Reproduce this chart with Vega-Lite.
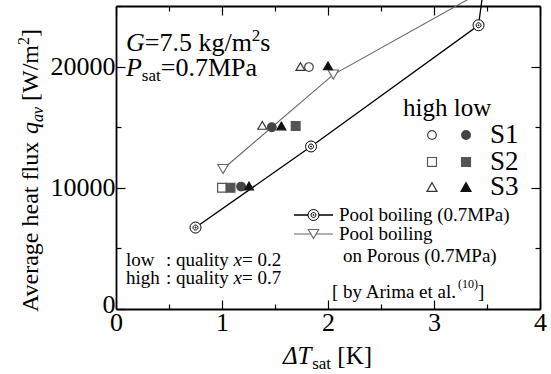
{
  "$schema": "https://vega.github.io/schema/vega-lite/v6.json",
  "width": 424,
  "height": 303,
  "autosize": {"type": "none"},
  "padding": {"left": 116, "top": 6, "right": 11, "bottom": 65},
  "background": "white",
  "config": {
    "view": {"stroke": null},
    "font": "Liberation Serif",
    "point": {"opacity": 1},
    "text": {"font": "Liberation Serif", "color": "black"}
  },
  "datasets": {
    "poolLine": [{"x": 0.75, "y": 6720}, {"x": 1.84, "y": 13410}, {"x": 3.42, "y": 23410}, {"x": 3.455, "y": 25700}],
    "pool": [{"x": 0.75, "y": 6720}, {"x": 1.84, "y": 13410}, {"x": 3.42, "y": 23410}],
    "porousLine": [{"x": 1.01, "y": 11550}, {"x": 2.05, "y": 19340}, {"x": 3.4, "y": 25930}],
    "porous": [{"x": 1.01, "y": 11550}, {"x": 2.05, "y": 19340}],
    "samples": [
      {"x": 1.82, "y": 19960, "s": "S1", "g": "S1 high"},
      {"x": 1.18, "y": 10100, "s": "S1", "g": "S1 low"},
      {"x": 1.47, "y": 15000, "s": "S1", "g": "S1 low"},
      {"x": 1.0, "y": 10000, "s": "S2", "g": "S2 high"},
      {"x": 1.08, "y": 10000, "s": "S2", "g": "S2 low"},
      {"x": 1.695, "y": 15100, "s": "S2", "g": "S2 low"},
      {"x": 1.38, "y": 15150, "s": "S3", "g": "S3 high"},
      {"x": 1.74, "y": 20000, "s": "S3", "g": "S3 high"},
      {"x": 1.255, "y": 10150, "s": "S3", "g": "S3 low"},
      {"x": 1.56, "y": 15100, "s": "S3", "g": "S3 low"},
      {"x": 2.0, "y": 20060, "s": "S3", "g": "S3 low"}
    ]
  },
  "resolve": {"axis": {"x": "independent", "y": "independent"}},
  "layer": [
    {
      "data": {"name": "poolLine"},
      "mark": {"type": "line", "color": "black", "strokeWidth": 1.3},
      "encoding": {
        "x": {"field": "x", "type": "quantitative", "scale": {"domain": [0, 4], "nice": false, "zero": false},
          "axis": {"orient": "bottom", "values": [0, 0.5, 1, 1.5, 2, 2.5, 3, 3.5, 4], "labelExpr": "datum.value % 1 === 0 ? format(datum.value, 'd') : ''",
            "labelFont": "Liberation Serif", "labelFontSize": 26, "labelColor": "black", "labelPadding": 9, "labelOverlap": false, "labelFlush": false, "labelBound": false,
            "tickSize": {"condition": {"test": "datum.value % 1 === 0", "value": -9}, "value": -5}, "tickColor": "black", "tickWidth": 1.2,
            "domainColor": "black", "domainWidth": 1.8, "grid": false, "title": null}},
        "y": {"field": "y", "type": "quantitative", "scale": {"domain": [0, 25000], "nice": false, "zero": false},
          "axis": {"orient": "left", "values": [0, 5000, 10000, 15000, 20000, 25000], "labelExpr": "datum.value % 10000 === 0 ? format(datum.value, 'd') : ''",
            "labelFont": "Liberation Serif", "labelFontSize": 26, "labelColor": "black", "labelPadding": 10, "labelOverlap": false, "labelFlush": false, "labelBound": false,
            "labelOffset": {"condition": {"test": "datum.value === 0", "value": -5}, "value": 0},
            "tickSize": {"condition": {"test": "datum.value % 10000 === 0", "value": -9}, "value": -5}, "tickColor": "black", "tickWidth": 1.2,
            "domainColor": "black", "domainWidth": 1.8, "grid": false, "title": null}}
      }
    },
    {
      "data": {"name": "porousLine"},
      "mark": {"type": "line", "color": "#666666", "strokeWidth": 1.1},
      "encoding": {
        "x": {"field": "x", "type": "quantitative", "scale": {"domain": [0, 4], "nice": false, "zero": false},
          "axis": {"orient": "top", "values": [0, 0.5, 1, 1.5, 2, 2.5, 3, 3.5, 4], "labels": false,
            "tickSize": {"condition": {"test": "datum.value % 1 === 0", "value": -9}, "value": -5}, "tickColor": "black", "tickWidth": 1.2,
            "domainColor": "black", "domainWidth": 1.8, "grid": false, "title": null}},
        "y": {"field": "y", "type": "quantitative", "scale": {"domain": [0, 25000], "nice": false, "zero": false},
          "axis": {"orient": "right", "values": [0, 5000, 10000, 15000, 20000, 25000], "labels": false,
            "tickSize": {"condition": {"test": "datum.value % 10000 === 0", "value": -9}, "value": -5}, "tickColor": "black", "tickWidth": 1.2,
            "domainColor": "black", "domainWidth": 1.8, "grid": false, "title": null}}
      }
    },
    {
      "data": {"name": "porous"},
      "mark": {"type": "point", "shape": "triangle-down", "size": 110, "filled": true, "fill": "white", "stroke": "#666666", "strokeWidth": 1.1},
      "encoding": {
        "x": {"field": "x", "type": "quantitative", "axis": null},
        "y": {"field": "y", "type": "quantitative", "axis": null}
      }
    },
    {
      "data": {"name": "pool"},
      "mark": {"type": "point", "shape": "M-1,0A1,1,0,1,0,1,0A1,1,0,1,0,-1,0Z M-0.45,0A0.45,0.45,0,1,0,0.45,0A0.45,0.45,0,1,0,-0.45,0Z M-0.1,0A0.1,0.1,0,1,0,0.1,0A0.1,0.1,0,1,0,-0.1,0Z", "size": 121, "filled": true, "fill": "white", "stroke": "black", "strokeWidth": 1},
      "encoding": {
        "x": {"field": "x", "type": "quantitative", "axis": null},
        "y": {"field": "y", "type": "quantitative", "axis": null}
      }
    },
    {
      "data": {"name": "samples"},
      "mark": {"type": "point", "filled": true, "strokeWidth": 1.2},
      "encoding": {
        "x": {"field": "x", "type": "quantitative", "axis": null},
        "y": {"field": "y", "type": "quantitative", "axis": null},
        "shape": {"field": "s", "type": "nominal", "scale": {"domain": ["S1", "S2", "S3"], "range": ["circle", "square", "triangle-up"]}, "legend": null},
        "size": {"field": "s", "type": "nominal", "scale": {"domain": ["S1", "S2", "S3"], "range": [75, 80, 100]}, "legend": null},
        "fill": {"field": "g", "type": "nominal", "scale": {"domain": ["S1 high", "S1 low", "S2 high", "S2 low", "S3 high", "S3 low"], "range": ["transparent", "#444444", "transparent", "#555555", "transparent", "#111111"]}, "legend": null},
        "stroke": {"field": "g", "type": "nominal", "scale": {"domain": ["S1 high", "S1 low", "S2 high", "S2 low", "S3 high", "S3 low"], "range": ["#444444", "#444444", "#555555", "#555555", "#333333", "#111111"]}, "legend": null}
      }
    },
    {"data": {"values": [{}]}, "mark": {"type": "point", "shape": "circle", "size": 75, "filled": true, "fill": "transparent", "stroke": "#444444", "strokeWidth": 1.2},
      "encoding": {"x": {"datum": 2.981, "type": "quantitative", "axis": null}, "y": {"datum": 14356, "type": "quantitative", "axis": null}}},
    {"data": {"values": [{}]}, "mark": {"type": "point", "shape": "circle", "size": 75, "filled": true, "fill": "#444444", "stroke": "#444444", "strokeWidth": 1.2},
      "encoding": {"x": {"datum": 3.302, "type": "quantitative", "axis": null}, "y": {"datum": 14356, "type": "quantitative", "axis": null}}},
    {"data": {"values": [{}]}, "mark": {"type": "point", "shape": "square", "size": 80, "filled": true, "fill": "transparent", "stroke": "#555555", "strokeWidth": 1.2},
      "encoding": {"x": {"datum": 2.981, "type": "quantitative", "axis": null}, "y": {"datum": 12129, "type": "quantitative", "axis": null}}},
    {"data": {"values": [{}]}, "mark": {"type": "point", "shape": "square", "size": 80, "filled": true, "fill": "#555555", "stroke": "#555555", "strokeWidth": 1.2},
      "encoding": {"x": {"datum": 3.302, "type": "quantitative", "axis": null}, "y": {"datum": 12129, "type": "quantitative", "axis": null}}},
    {"data": {"values": [{}]}, "mark": {"type": "point", "shape": "triangle-up", "size": 100, "filled": true, "fill": "transparent", "stroke": "#333333", "strokeWidth": 1.2},
      "encoding": {"x": {"datum": 2.981, "type": "quantitative", "axis": null}, "y": {"datum": 10066, "type": "quantitative", "axis": null}}},
    {"data": {"values": [{}]}, "mark": {"type": "point", "shape": "triangle-up", "size": 100, "filled": true, "fill": "#111111", "stroke": "#111111", "strokeWidth": 1.2},
      "encoding": {"x": {"datum": 3.302, "type": "quantitative", "axis": null}, "y": {"datum": 10066, "type": "quantitative", "axis": null}}},
    {"data": {"values": [{}]}, "mark": {"type": "text", "text": "high low", "fontSize": 25, "align": "left", "baseline": "middle"},
      "encoding": {"x": {"datum": 2.708, "type": "quantitative", "axis": null}, "y": {"datum": 16584, "type": "quantitative", "axis": null}}},
    {"data": {"values": [{}]}, "mark": {"type": "text", "text": "S1", "fontSize": 27, "align": "left", "baseline": "middle"},
      "encoding": {"x": {"datum": 3.528, "type": "quantitative", "axis": null}, "y": {"datum": 14356, "type": "quantitative", "axis": null}}},
    {"data": {"values": [{}]}, "mark": {"type": "text", "text": "S2", "fontSize": 27, "align": "left", "baseline": "middle"},
      "encoding": {"x": {"datum": 3.528, "type": "quantitative", "axis": null}, "y": {"datum": 12129, "type": "quantitative", "axis": null}}},
    {"data": {"values": [{}]}, "mark": {"type": "text", "text": "S3", "fontSize": 27, "align": "left", "baseline": "middle"},
      "encoding": {"x": {"datum": 3.528, "type": "quantitative", "axis": null}, "y": {"datum": 10066, "type": "quantitative", "axis": null}}},
    {"data": {"values": [{}]}, "mark": {"type": "rule", "color": "black", "strokeWidth": 1.3},
      "encoding": {"x": {"datum": 1.679, "type": "quantitative", "axis": null}, "x2": {"datum": 2.047}, "y": {"datum": 7756, "type": "quantitative", "axis": null}}},
    {"data": {"values": [{}]}, "mark": {"type": "point", "shape": "M-1,0A1,1,0,1,0,1,0A1,1,0,1,0,-1,0Z M-0.45,0A0.45,0.45,0,1,0,0.45,0A0.45,0.45,0,1,0,-0.45,0Z M-0.1,0A0.1,0.1,0,1,0,0.1,0A0.1,0.1,0,1,0,-0.1,0Z", "size": 121, "filled": true, "fill": "white", "stroke": "black", "strokeWidth": 1},
      "encoding": {"x": {"datum": 1.863, "type": "quantitative", "axis": null}, "y": {"datum": 7756, "type": "quantitative", "axis": null}}},
    {"data": {"values": [{}]}, "mark": {"type": "rule", "color": "#666666", "strokeWidth": 1.1},
      "encoding": {"x": {"datum": 1.679, "type": "quantitative", "axis": null}, "x2": {"datum": 2.047}, "y": {"datum": 6188, "type": "quantitative", "axis": null}}},
    {"data": {"values": [{}]}, "mark": {"type": "point", "shape": "triangle-down", "size": 110, "filled": true, "fill": "white", "stroke": "#666666", "strokeWidth": 1.1},
      "encoding": {"x": {"datum": 1.863, "type": "quantitative", "axis": null}, "y": {"datum": 6188, "type": "quantitative", "axis": null}}},
    {"data": {"values": [{}]}, "mark": {"type": "text", "text": "Pool boiling (0.7MPa)", "fontSize": 19, "align": "left", "baseline": "middle"},
      "encoding": {"x": {"datum": 2.104, "type": "quantitative", "axis": null}, "y": {"datum": 7756, "type": "quantitative", "axis": null}}},
    {"data": {"values": [{}]}, "mark": {"type": "text", "text": "Pool boiling", "fontSize": 19, "align": "left", "baseline": "middle"},
      "encoding": {"x": {"datum": 2.104, "type": "quantitative", "axis": null}, "y": {"datum": 6188, "type": "quantitative", "axis": null}}},
    {"data": {"values": [{}]}, "mark": {"type": "text", "text": "on Porous (0.7MPa)", "fontSize": 19, "align": "left", "baseline": "middle"},
      "encoding": {"x": {"datum": 2.142, "type": "quantitative", "axis": null}, "y": {"datum": 4373, "type": "quantitative", "axis": null}}},
    {"data": {"values": [{}]}, "mark": {"type": "text", "text": "[ by Arima et al.", "fontSize": 19, "align": "left", "baseline": "middle"},
      "encoding": {"x": {"datum": 2.038, "type": "quantitative", "axis": null}, "y": {"datum": 1403, "type": "quantitative", "axis": null}}},
    {"data": {"values": [{}]}, "mark": {"type": "text", "text": "(10)", "fontSize": 12, "align": "left", "baseline": "middle"},
      "encoding": {"x": {"datum": 3.226, "type": "quantitative", "axis": null}, "y": {"datum": 2063, "type": "quantitative", "axis": null}}},
    {"data": {"values": [{}]}, "mark": {"type": "text", "text": "]", "fontSize": 19, "align": "left", "baseline": "middle"},
      "encoding": {"x": {"datum": 3.415, "type": "quantitative", "axis": null}, "y": {"datum": 1403, "type": "quantitative", "axis": null}}},
    {"data": {"values": [{}]}, "mark": {"type": "text", "text": "low", "fontSize": 19, "align": "left", "baseline": "middle"},
      "encoding": {"x": {"datum": 0.094, "type": "quantitative", "axis": null}, "y": {"datum": 4043, "type": "quantitative", "axis": null}}},
    {"data": {"values": [{}]}, "mark": {"type": "text", "text": ": quality", "fontSize": 19, "align": "left", "baseline": "middle"},
      "encoding": {"x": {"datum": 0.472, "type": "quantitative", "axis": null}, "y": {"datum": 4043, "type": "quantitative", "axis": null}}},
    {"data": {"values": [{}]}, "mark": {"type": "text", "text": "x", "fontStyle": "italic", "fontSize": 19, "align": "left", "baseline": "middle"},
      "encoding": {"x": {"datum": 1.108, "type": "quantitative", "axis": null}, "y": {"datum": 4043, "type": "quantitative", "axis": null}}},
    {"data": {"values": [{}]}, "mark": {"type": "text", "text": "= 0.2", "fontSize": 19, "align": "left", "baseline": "middle"},
      "encoding": {"x": {"datum": 1.189, "type": "quantitative", "axis": null}, "y": {"datum": 4043, "type": "quantitative", "axis": null}}},
    {"data": {"values": [{}]}, "mark": {"type": "text", "text": "high", "fontSize": 19, "align": "left", "baseline": "middle"},
      "encoding": {"x": {"datum": 0.094, "type": "quantitative", "axis": null}, "y": {"datum": 2558, "type": "quantitative", "axis": null}}},
    {"data": {"values": [{}]}, "mark": {"type": "text", "text": ": quality", "fontSize": 19, "align": "left", "baseline": "middle"},
      "encoding": {"x": {"datum": 0.472, "type": "quantitative", "axis": null}, "y": {"datum": 2558, "type": "quantitative", "axis": null}}},
    {"data": {"values": [{}]}, "mark": {"type": "text", "text": "x", "fontStyle": "italic", "fontSize": 19, "align": "left", "baseline": "middle"},
      "encoding": {"x": {"datum": 1.108, "type": "quantitative", "axis": null}, "y": {"datum": 2558, "type": "quantitative", "axis": null}}},
    {"data": {"values": [{}]}, "mark": {"type": "text", "text": "= 0.7", "fontSize": 19, "align": "left", "baseline": "middle"},
      "encoding": {"x": {"datum": 1.189, "type": "quantitative", "axis": null}, "y": {"datum": 2558, "type": "quantitative", "axis": null}}},
    {"data": {"values": [{}]}, "mark": {"type": "text", "text": "G", "fontStyle": "italic", "fontSize": 26, "align": "left", "baseline": "alphabetic"},
      "encoding": {"x": {"datum": 0.094, "type": "quantitative", "axis": null}, "y": {"datum": 21287, "type": "quantitative", "axis": null}}},
    {"data": {"values": [{}]}, "mark": {"type": "text", "text": "=7.5 kg/m", "fontSize": 26, "align": "left", "baseline": "alphabetic"},
      "encoding": {"x": {"datum": 0.272, "type": "quantitative", "axis": null}, "y": {"datum": 21287, "type": "quantitative", "axis": null}}},
    {"data": {"values": [{}]}, "mark": {"type": "text", "text": "2", "fontSize": 17, "align": "left", "baseline": "alphabetic"},
      "encoding": {"x": {"datum": 1.281, "type": "quantitative", "axis": null}, "y": {"datum": 22112, "type": "quantitative", "axis": null}}},
    {"data": {"values": [{}]}, "mark": {"type": "text", "text": "s", "fontSize": 26, "align": "left", "baseline": "alphabetic"},
      "encoding": {"x": {"datum": 1.361, "type": "quantitative", "axis": null}, "y": {"datum": 21287, "type": "quantitative", "axis": null}}},
    {"data": {"values": [{}]}, "mark": {"type": "text", "text": "P", "fontStyle": "italic", "fontSize": 26, "align": "left", "baseline": "alphabetic"},
      "encoding": {"x": {"datum": 0.094, "type": "quantitative", "axis": null}, "y": {"datum": 19224, "type": "quantitative", "axis": null}}},
    {"data": {"values": [{}]}, "mark": {"type": "text", "text": "sat", "fontSize": 17, "align": "left", "baseline": "alphabetic"},
      "encoding": {"x": {"datum": 0.244, "type": "quantitative", "axis": null}, "y": {"datum": 18812, "type": "quantitative", "axis": null}}},
    {"data": {"values": [{}]}, "mark": {"type": "text", "text": "=0.7MPa", "fontSize": 26, "align": "left", "baseline": "alphabetic"},
      "encoding": {"x": {"datum": 0.423, "type": "quantitative", "axis": null}, "y": {"datum": 19224, "type": "quantitative", "axis": null}}},
    {"data": {"values": [{}]}, "mark": {"type": "text", "text": "ΔT", "fontStyle": "italic", "fontSize": 25, "align": "left", "baseline": "alphabetic"},
      "encoding": {"x": {"datum": 1.575, "type": "quantitative", "axis": null}, "y": {"datum": -4538, "type": "quantitative", "axis": null}}},
    {"data": {"values": [{}]}, "mark": {"type": "text", "text": "sat", "fontSize": 17, "align": "left", "baseline": "alphabetic"},
      "encoding": {"x": {"datum": 1.851, "type": "quantitative", "axis": null}, "y": {"datum": -4950, "type": "quantitative", "axis": null}}},
    {"data": {"values": [{}]}, "mark": {"type": "text", "text": "[K]", "fontSize": 25, "align": "left", "baseline": "alphabetic"},
      "encoding": {"x": {"datum": 2.088, "type": "quantitative", "axis": null}, "y": {"datum": -4538, "type": "quantitative", "axis": null}}},
    {"data": {"values": [{}]}, "mark": {"type": "text", "text": "Average heat flux", "angle": 270, "fontSize": 24, "align": "left", "baseline": "alphabetic"},
      "encoding": {"x": {"datum": -0.736, "type": "quantitative", "axis": null}, "y": {"datum": -248, "type": "quantitative", "axis": null}}},
    {"data": {"values": [{}]}, "mark": {"type": "text", "text": "q", "fontStyle": "italic", "angle": 270, "fontSize": 24, "align": "left", "baseline": "alphabetic"},
      "encoding": {"x": {"datum": -0.736, "type": "quantitative", "axis": null}, "y": {"datum": 14431, "type": "quantitative", "axis": null}}},
    {"data": {"values": [{}]}, "mark": {"type": "text", "text": "av", "fontStyle": "italic", "angle": 270, "fontSize": 16, "align": "left", "baseline": "alphabetic"},
      "encoding": {"x": {"datum": -0.689, "type": "quantitative", "axis": null}, "y": {"datum": 15421, "type": "quantitative", "axis": null}}},
    {"data": {"values": [{}]}, "mark": {"type": "text", "text": "[W/m", "angle": 270, "fontSize": 24, "align": "left", "baseline": "alphabetic"},
      "encoding": {"x": {"datum": -0.736, "type": "quantitative", "axis": null}, "y": {"datum": 17162, "type": "quantitative", "axis": null}}},
    {"data": {"values": [{}]}, "mark": {"type": "text", "text": "2", "angle": 270, "fontSize": 16, "align": "left", "baseline": "alphabetic"},
      "encoding": {"x": {"datum": -0.821, "type": "quantitative", "axis": null}, "y": {"datum": 21782, "type": "quantitative", "axis": null}}},
    {"data": {"values": [{}]}, "mark": {"type": "text", "text": "]", "angle": 270, "fontSize": 24, "align": "left", "baseline": "alphabetic"},
      "encoding": {"x": {"datum": -0.736, "type": "quantitative", "axis": null}, "y": {"datum": 22442, "type": "quantitative", "axis": null}}}
  ]
}
